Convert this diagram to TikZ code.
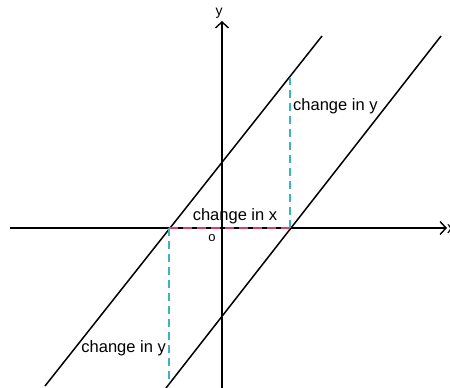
\documentclass[tikz,border=0pt]{standalone}
\usepackage{fontspec}
\setmainfont{Liberation Sans}
\usetikzlibrary{arrows.meta}
\definecolor{riseteal}{RGB}{60,180,190}
\definecolor{runpink}{RGB}{220,60,110}
\begin{document}
\begin{tikzpicture}[x=1pt, y=-1pt,
    axis/.style={line width=1.5pt, -{Straight Barb[length=6pt, width=13pt, line width=1.4pt]}},
    graphline/.style={line width=1.5pt},
    rise/.style={riseteal, line width=1.5pt, dash pattern=on 8pt off 5pt},
    run/.style={runpink, line width=1.5pt, dash pattern=on 9pt off 5pt},
    lbl/.style={font=\fontsize{16.5}{19}\selectfont, inner sep=0pt}]
    \useasboundingbox (0,0) rectangle (450,388);

    % Axes
    \coordinate (xstart) at (10,228);
    \coordinate (xend) at (447,228);
    \coordinate (ystart) at (222,390);
    \coordinate (yend) at (222,21);
    \draw[axis] (xstart) -- (xend);
    \draw[axis] (ystart) -- (yend);
    \node[lbl, anchor=west] (xlabel) at (447,229) {x};
    \node[lbl, font=\fontsize{14}{16}\selectfont] (ylabel) at (219,13) {y};
    \node[font=\fontsize{13}{15}\selectfont, inner sep=0pt] (origin) at (212,238) {o};

    % The two parallel lines
    \coordinate (lowA) at (45,386);
    \coordinate (highA) at (322,36);
    \coordinate (lowB) at (166,388);
    \coordinate (highB) at (441,36);
    \draw[graphline] (lowA) -- (highA);
    \draw[graphline] (lowB) -- (highB);

    % Run and rise
    \coordinate (P) at (169,228);
    \coordinate (Q) at (290,228);
    \coordinate (riseup) at (290,78);
    \coordinate (risedown) at (169,384);
    \draw[run] (P) -- (Q);
    \draw[rise] (Q) -- (riseup);
    \draw[rise] (P) -- (risedown);

    \node[lbl] (runlabel) at (235,216) {change in x};
    \node[lbl, anchor=west] (riselabel) at (293,106) {change in y};
    \node[lbl, anchor=east] (droplabel) at (166,348) {change in y};
\end{tikzpicture}
\end{document}
